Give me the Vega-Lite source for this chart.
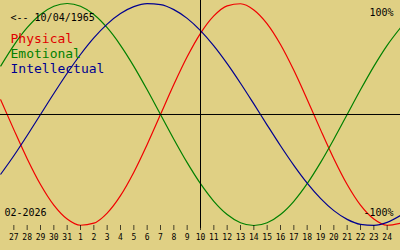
{
  "$schema": "https://vega.github.io/schema/vega-lite/v6.json",
  "width": 400,
  "height": 250,
  "padding": 0,
  "autosize": "none",
  "background": "#e0d084",
  "config": {"view": {"stroke": null}},
  "datasets": {
    "curves": [
      {"i": -1, "series": "Physical", "v": 0.1362}, {"i": 0, "series": "Physical", "v": -0.1362}, {"i": 1, "series": "Physical", "v": -0.3984}, {"i": 2, "series": "Physical", "v": -0.6311}, {"i": 3, "series": "Physical", "v": -0.8170}, {"i": 4, "series": "Physical", "v": -0.9423}, {"i": 5, "series": "Physical", "v": -0.9977}, {"i": 6, "series": "Physical", "v": -0.9791}, {"i": 7, "series": "Physical", "v": -0.8879}, {"i": 8, "series": "Physical", "v": -0.7308}, {"i": 9, "series": "Physical", "v": -0.5196}, {"i": 10, "series": "Physical", "v": -0.2698}, {"i": 11, "series": "Physical", "v": 0}, {"i": 12, "series": "Physical", "v": 0.2698}, {"i": 13, "series": "Physical", "v": 0.5196}, {"i": 14, "series": "Physical", "v": 0.7308}, {"i": 15, "series": "Physical", "v": 0.8879}, {"i": 16, "series": "Physical", "v": 0.9791}, {"i": 17, "series": "Physical", "v": 0.9977}, {"i": 18, "series": "Physical", "v": 0.9423}, {"i": 19, "series": "Physical", "v": 0.8170}, {"i": 20, "series": "Physical", "v": 0.6311}, {"i": 21, "series": "Physical", "v": 0.3984}, {"i": 22, "series": "Physical", "v": 0.1362}, {"i": 23, "series": "Physical", "v": -0.1362}, {"i": 24, "series": "Physical", "v": -0.3984}, {"i": 25, "series": "Physical", "v": -0.6311}, {"i": 26, "series": "Physical", "v": -0.8170}, {"i": 27, "series": "Physical", "v": -0.9423}, {"i": 28, "series": "Physical", "v": -0.9977}, {"i": 29, "series": "Physical", "v": -0.9791},
      {"i": -1, "series": "Emotional", "v": 0.4339}, {"i": 0, "series": "Emotional", "v": 0.6235}, {"i": 1, "series": "Emotional", "v": 0.7818}, {"i": 2, "series": "Emotional", "v": 0.9010}, {"i": 3, "series": "Emotional", "v": 0.9749}, {"i": 4, "series": "Emotional", "v": 1}, {"i": 5, "series": "Emotional", "v": 0.9749}, {"i": 6, "series": "Emotional", "v": 0.9010}, {"i": 7, "series": "Emotional", "v": 0.7818}, {"i": 8, "series": "Emotional", "v": 0.6235}, {"i": 9, "series": "Emotional", "v": 0.4339}, {"i": 10, "series": "Emotional", "v": 0.2225}, {"i": 11, "series": "Emotional", "v": 0}, {"i": 12, "series": "Emotional", "v": -0.2225}, {"i": 13, "series": "Emotional", "v": -0.4339}, {"i": 14, "series": "Emotional", "v": -0.6235}, {"i": 15, "series": "Emotional", "v": -0.7818}, {"i": 16, "series": "Emotional", "v": -0.9010}, {"i": 17, "series": "Emotional", "v": -0.9749}, {"i": 18, "series": "Emotional", "v": -1}, {"i": 19, "series": "Emotional", "v": -0.9749}, {"i": 20, "series": "Emotional", "v": -0.9010}, {"i": 21, "series": "Emotional", "v": -0.7818}, {"i": 22, "series": "Emotional", "v": -0.6235}, {"i": 23, "series": "Emotional", "v": -0.4339}, {"i": 24, "series": "Emotional", "v": -0.2225}, {"i": 25, "series": "Emotional", "v": 0}, {"i": 26, "series": "Emotional", "v": 0.2225}, {"i": 27, "series": "Emotional", "v": 0.4339}, {"i": 28, "series": "Emotional", "v": 0.6235}, {"i": 29, "series": "Emotional", "v": 0.7818},
      {"i": -1, "series": "Intellectual", "v": -0.5406}, {"i": 0, "series": "Intellectual", "v": -0.3717}, {"i": 1, "series": "Intellectual", "v": -0.1893}, {"i": 2, "series": "Intellectual", "v": 0}, {"i": 3, "series": "Intellectual", "v": 0.1893}, {"i": 4, "series": "Intellectual", "v": 0.3717}, {"i": 5, "series": "Intellectual", "v": 0.5406}, {"i": 6, "series": "Intellectual", "v": 0.6901}, {"i": 7, "series": "Intellectual", "v": 0.8146}, {"i": 8, "series": "Intellectual", "v": 0.9096}, {"i": 9, "series": "Intellectual", "v": 0.9718}, {"i": 10, "series": "Intellectual", "v": 0.9989}, {"i": 11, "series": "Intellectual", "v": 0.9898}, {"i": 12, "series": "Intellectual", "v": 0.9450}, {"i": 13, "series": "Intellectual", "v": 0.8660}, {"i": 14, "series": "Intellectual", "v": 0.7557}, {"i": 15, "series": "Intellectual", "v": 0.6182}, {"i": 16, "series": "Intellectual", "v": 0.4582}, {"i": 17, "series": "Intellectual", "v": 0.2817}, {"i": 18, "series": "Intellectual", "v": 0.0951}, {"i": 19, "series": "Intellectual", "v": -0.0951}, {"i": 20, "series": "Intellectual", "v": -0.2817}, {"i": 21, "series": "Intellectual", "v": -0.4582}, {"i": 22, "series": "Intellectual", "v": -0.6182}, {"i": 23, "series": "Intellectual", "v": -0.7557}, {"i": 24, "series": "Intellectual", "v": -0.8660}, {"i": 25, "series": "Intellectual", "v": -0.9450}, {"i": 26, "series": "Intellectual", "v": -0.9898}, {"i": 27, "series": "Intellectual", "v": -0.9989}, {"i": 28, "series": "Intellectual", "v": -0.9718}, {"i": 29, "series": "Intellectual", "v": -0.9096}
    ],
    "days": [
      {"i": 0, "day": "27"}, {"i": 1, "day": "28"}, {"i": 2, "day": "29"}, {"i": 3, "day": "30"}, {"i": 4, "day": "31"},
      {"i": 5, "day": "1"}, {"i": 6, "day": "2"}, {"i": 7, "day": "3"}, {"i": 8, "day": "4"}, {"i": 9, "day": "5"},
      {"i": 10, "day": "6"}, {"i": 11, "day": "7"}, {"i": 12, "day": "8"}, {"i": 13, "day": "9"}, {"i": 14, "day": "10"},
      {"i": 15, "day": "11"}, {"i": 16, "day": "12"}, {"i": 17, "day": "13"}, {"i": 18, "day": "14"}, {"i": 19, "day": "15"},
      {"i": 20, "day": "16"}, {"i": 21, "day": "17"}, {"i": 22, "day": "18"}, {"i": 23, "day": "19"}, {"i": 24, "day": "20"},
      {"i": 25, "day": "21"}, {"i": 26, "day": "22"}, {"i": 27, "day": "23"}, {"i": 28, "day": "24"}
    ],
    "notes": [
      {"t": "<-- 10/04/1965", "key": "birth"},
      {"t": "Physical", "key": "p"},
      {"t": "Emotional", "key": "e"},
      {"t": "Intellectual", "key": "n"},
      {"t": "100%", "key": "top"},
      {"t": "-100%", "key": "bottom"},
      {"t": "02-2026", "key": "month"}
    ]
  },
  "layer": [
    {
      "data": {"name": "curves"},
      "mark": {"type": "line", "strokeWidth": 1.2, "interpolate": "monotone"},
      "encoding": {
        "x": {"field": "i", "type": "quantitative", "axis": null, "scale": {"domain": [-1.0375, 28.9625], "nice": false, "zero": false}},
        "y": {"field": "v", "type": "quantitative", "axis": null, "scale": {"domain": [-1.2207, 1.0315], "nice": false, "zero": false}},
        "color": {"field": "series", "type": "nominal", "legend": null, "scale": {"domain": ["Physical", "Emotional", "Intellectual"], "range": ["#f00000", "#008000", "#000090"]}}
      }
    },
    {
      "data": {"values": [{"z": 0}]},
      "mark": {"type": "rule", "color": "#000000", "strokeWidth": 1},
      "encoding": {
        "y": {"field": "z", "type": "quantitative"}
      }
    },
    {
      "data": {"values": [{"today": 14, "top": 1.0315, "bottom": -1.022}]},
      "mark": {"type": "rule", "color": "#000000", "strokeWidth": 1},
      "encoding": {
        "x": {"field": "today", "type": "quantitative"},
        "y": {"field": "top", "type": "quantitative"},
        "y2": {"field": "bottom"}
      }
    },
    {
      "data": {"name": "days"},
      "mark": {"type": "tick", "color": "#000000", "thickness": 1, "size": 5, "orient": "vertical"},
      "encoding": {
        "x": {"field": "i", "type": "quantitative"},
        "y": {"datum": -1.0175, "type": "quantitative"}
      }
    },
    {
      "data": {"name": "days"},
      "mark": {"type": "text", "font": "DejaVu Sans Mono", "fontSize": 8, "color": "#000000", "align": "center", "baseline": "middle"},
      "encoding": {
        "x": {"field": "i", "type": "quantitative"},
        "y": {"datum": -1.113, "type": "quantitative"},
        "text": {"field": "day"}
      }
    },
    {
      "data": {"name": "notes"},
      "transform": [{"filter": "datum.key === 'birth'"}],
      "mark": {"type": "text", "font": "DejaVu Sans Mono", "fontSize": 10, "color": "#000000", "align": "left", "baseline": "alphabetic"},
      "encoding": {"x": {"datum": -0.25, "type": "quantitative"}, "y": {"datum": 0.845, "type": "quantitative"}, "text": {"field": "t"}}
    },
    {
      "data": {"name": "notes"},
      "transform": [{"filter": "datum.key === 'p'"}],
      "mark": {"type": "text", "font": "DejaVu Sans Mono", "fontSize": 13, "color": "#e00000", "align": "left", "baseline": "alphabetic"},
      "encoding": {"x": {"datum": -0.25, "type": "quantitative"}, "y": {"datum": 0.644, "type": "quantitative"}, "text": {"field": "t"}}
    },
    {
      "data": {"name": "notes"},
      "transform": [{"filter": "datum.key === 'e'"}],
      "mark": {"type": "text", "font": "DejaVu Sans Mono", "fontSize": 13, "color": "#008000", "align": "left", "baseline": "alphabetic"},
      "encoding": {"x": {"datum": -0.25, "type": "quantitative"}, "y": {"datum": 0.513, "type": "quantitative"}, "text": {"field": "t"}}
    },
    {
      "data": {"name": "notes"},
      "transform": [{"filter": "datum.key === 'n'"}],
      "mark": {"type": "text", "font": "DejaVu Sans Mono", "fontSize": 13, "color": "#000090", "align": "left", "baseline": "alphabetic"},
      "encoding": {"x": {"datum": -0.25, "type": "quantitative"}, "y": {"datum": 0.376, "type": "quantitative"}, "text": {"field": "t"}}
    },
    {
      "data": {"name": "notes"},
      "transform": [{"filter": "datum.key === 'top'"}],
      "mark": {"type": "text", "font": "DejaVu Sans Mono", "fontSize": 10, "color": "#000000", "align": "right", "baseline": "alphabetic"},
      "encoding": {"x": {"datum": 28.475, "type": "quantitative"}, "y": {"datum": 0.887, "type": "quantitative"}, "text": {"field": "t"}}
    },
    {
      "data": {"name": "notes"},
      "transform": [{"filter": "datum.key === 'bottom'"}],
      "mark": {"type": "text", "font": "DejaVu Sans Mono", "fontSize": 10, "color": "#000000", "align": "right", "baseline": "alphabetic"},
      "encoding": {"x": {"datum": 28.475, "type": "quantitative"}, "y": {"datum": -0.914, "type": "quantitative"}, "text": {"field": "t"}}
    },
    {
      "data": {"name": "notes"},
      "transform": [{"filter": "datum.key === 'month'"}],
      "mark": {"type": "text", "font": "DejaVu Sans Mono", "fontSize": 10, "color": "#000000", "align": "left", "baseline": "alphabetic"},
      "encoding": {"x": {"datum": -0.7, "type": "quantitative"}, "y": {"datum": -0.914, "type": "quantitative"}, "text": {"field": "t"}}
    }
  ]
}
